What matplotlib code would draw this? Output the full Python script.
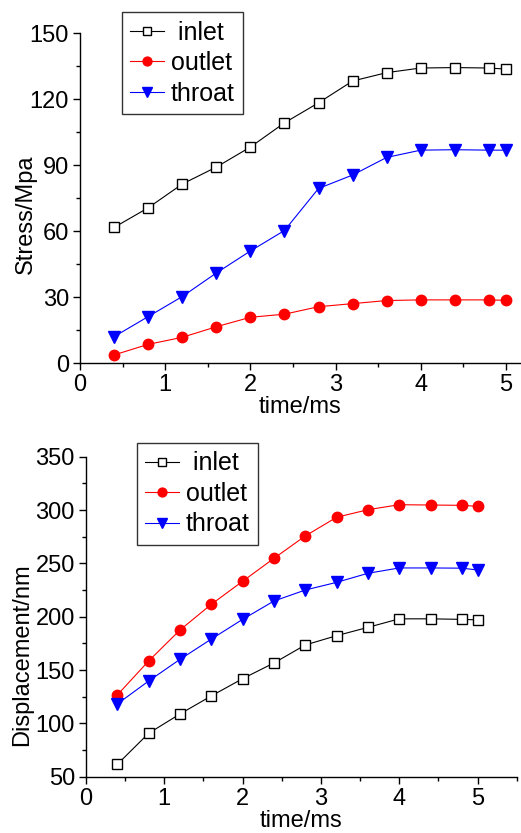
import matplotlib
matplotlib.use("Agg")
import matplotlib.pyplot as plt
from matplotlib.ticker import MultipleLocator

plt.rcParams['font.family'] = ['Liberation Sans', 'DejaVu Sans']

time_ms = [0.4, 0.8, 1.2, 1.6, 2.0, 2.4, 2.8, 3.2, 3.6, 4.0, 4.4, 4.8, 5.0]

stress_inlet = [61.7, 70.6, 81.4, 89.1, 98.2, 109.2, 118.3, 128.2, 132.0, 134.1, 134.3, 134.1, 133.6]
stress_outlet = [3.8, 8.6, 11.8, 16.6, 20.9, 22.3, 25.7, 27.1, 28.5, 28.8, 28.8, 28.8, 28.6]
stress_throat = [12.1, 21.2, 30.3, 41.0, 51.0, 60.3, 79.4, 85.5, 93.5, 96.8, 97.0, 96.8, 96.8]

disp_inlet = [61.6, 90.7, 108.8, 125.7, 141.9, 156.6, 173.5, 182.2, 190.0, 198.0, 198.0, 197.5, 197.0]
disp_outlet = [126.6, 158.5, 187.5, 211.6, 233.2, 254.7, 275.7, 293.2, 300.3, 305.0, 304.7, 304.4, 303.5]
disp_throat = [118.2, 139.7, 160.0, 179.0, 197.5, 214.7, 225.0, 232.2, 240.7, 245.7, 245.7, 245.5, 243.8]

labels = [' inlet', 'outlet', 'throat']

W, H = 521, 833
FS = 17
fig = plt.figure(figsize=(W / 100, H / 100), dpi=100)

def rect(l, r, t, b):
    return [l / W, 1 - b / H, (r - l) / W, (b - t) / H]

ax1 = fig.add_axes(rect(80, 520, 33, 363.3))
ax2 = fig.add_axes(rect(86, 516.7, 456.7, 776.7))

def style(ax):
    for s in ['top', 'right']:
        ax.spines[s].set_visible(False)
    for s in ['left', 'bottom']:
        ax.spines[s].set_linewidth(1.0)
    ax.tick_params(which='major', direction='out', length=5, width=1.0, labelsize=FS, pad=3)
    ax.tick_params(which='minor', direction='out', length=3, width=1.0)

def draw(ax, inlet, outlet, throat):
    ax.plot(time_ms, inlet, color='black', lw=0.8, marker='s', ms=7,
            mfc='white', mec='black', mew=1.0, label=labels[0])
    ax.plot(time_ms, outlet, color='red', lw=0.8, marker='o', ms=7.5,
            mfc='red', mec='red', label=labels[1])
    ax.plot(time_ms, throat, color='blue', lw=0.8, marker='v', ms=8.5,
            mfc='blue', mec='blue', label=labels[2])

def legend(ax, l, t, axl, axr, axt, axb):
    bx = (l - axl) / (axr - axl)
    by = 1 + (axt - t) / (axb - axt)
    leg = ax.legend(loc='upper left', bbox_to_anchor=(bx, by), borderaxespad=0,
                    fontsize=18, frameon=True, fancybox=False, edgecolor='black',
                    borderpad=0.33, labelspacing=0.26, handlelength=1.35,
                    handletextpad=0.28, markerscale=0.85)
    leg.get_frame().set_linewidth(1.0)

draw(ax1, stress_inlet, stress_outlet, stress_throat)
ax1.set_xlim(0, 5.165)
ax1.set_ylim(0, 150)
ax1.xaxis.set_major_locator(MultipleLocator(1))
ax1.xaxis.set_minor_locator(MultipleLocator(0.5))
ax1.yaxis.set_major_locator(MultipleLocator(30))
ax1.yaxis.set_minor_locator(MultipleLocator(15))
style(ax1)
ax1.set_xlabel('time/ms', fontsize=FS, labelpad=0)
ax1.set_ylabel('Stress/Mpa', fontsize=FS)
ax1.yaxis.set_label_coords(-0.098, 0.452)
legend(ax1, 121.7, 12.3, 80, 520, 33, 363.3)

draw(ax2, disp_inlet, disp_outlet, disp_throat)
ax2.set_xlim(0, 5.5)
ax2.set_ylim(50, 350)
ax2.xaxis.set_major_locator(MultipleLocator(1))
ax2.xaxis.set_minor_locator(MultipleLocator(0.5))
ax2.yaxis.set_major_locator(MultipleLocator(50))
ax2.yaxis.set_minor_locator(MultipleLocator(25))
style(ax2)
ax2.set_xlabel('time/ms', fontsize=FS, labelpad=0)
ax2.set_ylabel('Displacement/nm', fontsize=FS)
ax2.yaxis.set_label_coords(-0.123, 0.380)
legend(ax2, 137, 443, 86, 516.7, 456.7, 776.7)

fig.savefig('out.png', dpi=100)
